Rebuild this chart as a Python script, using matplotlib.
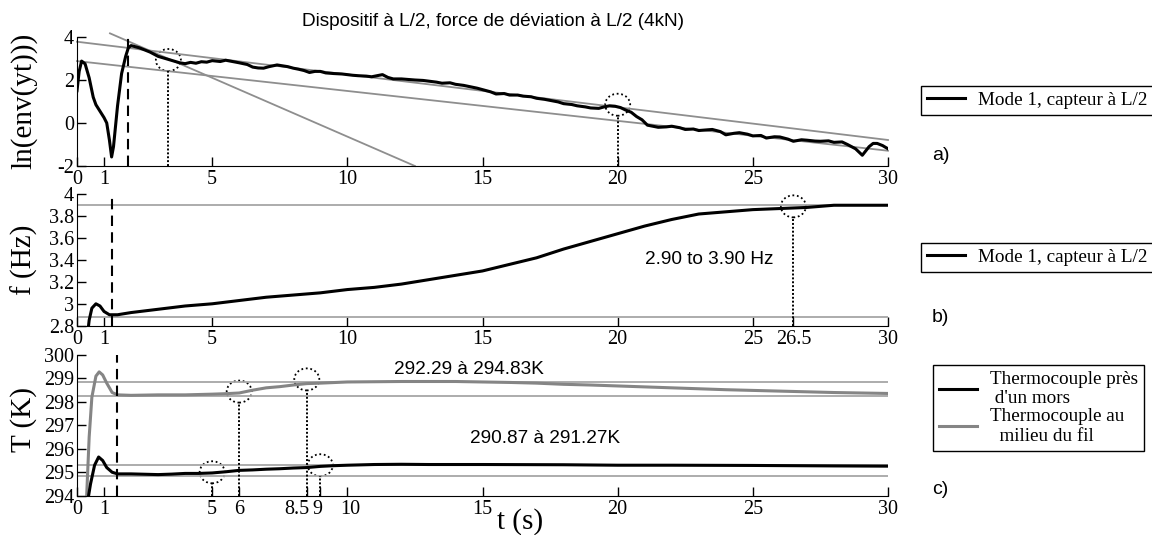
import numpy as np
import matplotlib.pyplot as plt
import matplotlib.transforms as mtransforms
from matplotlib.patches import Ellipse
from matplotlib.lines import Line2D

# panel a : ln(env(yt)) -- mode 1, capteur a L/2
t_a = [0.0, 0.08, 0.17, 0.3, 0.45, 0.6, 0.7, 0.85, 1.0, 1.1, 1.2, 1.28, 1.35, 1.5, 1.65,
       1.8, 1.9, 2.0, 2.3, 2.7, 3.0, 3.4, 3.8, 4.0, 4.2, 4.4, 4.6, 4.8, 5.0, 5.3, 5.5, 5.8,
       6.0, 6.3, 6.5, 6.7, 6.9, 7.1, 7.4, 7.6, 7.8, 8.0, 8.2, 8.4, 8.6, 8.8, 9.0, 9.2, 9.5,
       9.8, 10.0, 10.2, 10.4, 10.7, 10.9, 11.1, 11.3, 11.5, 11.7, 12.0, 12.3, 12.5, 12.8,
       13.0, 13.3, 13.5, 13.8, 14.0, 14.3, 14.5, 14.8, 15.0, 15.3, 15.5, 15.8, 16.0, 16.3,
       16.5, 16.8, 17.0, 17.3, 17.5, 17.8, 18.0, 18.3, 18.5, 18.8, 19.0, 19.3, 19.5, 19.7,
       19.9, 20.1, 20.3, 20.5, 20.7, 20.9, 21.1, 21.3, 21.5, 21.8, 22.0, 22.3, 22.5, 22.8,
       23.0, 23.3, 23.5, 23.8, 24.0, 24.3, 24.5, 24.8, 25.0, 25.3, 25.5, 25.8, 26.0, 26.3,
       26.5, 26.8, 27.0, 27.3, 27.5, 27.8, 28.0, 28.3, 28.5, 28.8, 29.05, 29.3, 29.45, 29.6,
       29.8, 30.0]
v_a = [1.5, 2.4, 2.88, 2.75, 2.1, 1.2, 0.85, 0.55, 0.25, 0.0, -0.8, -1.58, -1.1, 0.8, 2.3,
       3.1, 3.5, 3.6, 3.5, 3.3, 3.1, 2.95, 2.8, 2.76, 2.82, 2.78, 2.85, 2.83, 2.9, 2.86, 2.92,
       2.85, 2.8, 2.72, 2.6, 2.56, 2.55, 2.62, 2.7, 2.66, 2.62, 2.55, 2.5, 2.44, 2.35, 2.4,
       2.4, 2.33, 2.3, 2.28, 2.25, 2.22, 2.2, 2.18, 2.15, 2.2, 2.25, 2.12, 2.05, 2.05, 2.02,
       2.0, 1.98, 1.95, 1.9, 1.85, 1.87, 1.8, 1.75, 1.7, 1.62, 1.55, 1.45, 1.35, 1.37, 1.3,
       1.3, 1.25, 1.22, 1.15, 1.1, 1.05, 0.98, 0.9, 0.86, 0.8, 0.75, 0.7, 0.68, 0.75, 0.8,
       0.78, 0.72, 0.6, 0.5, 0.3, 0.15, -0.1, -0.15, -0.2, -0.18, -0.15, -0.22, -0.3, -0.28,
       -0.35, -0.32, -0.3, -0.4, -0.55, -0.48, -0.45, -0.52, -0.6, -0.58, -0.7, -0.64, -0.65,
       -0.75, -0.85, -0.78, -0.8, -0.84, -0.85, -0.83, -0.9, -0.88, -1.0, -1.2, -1.5, -1.1,
       -0.95, -0.95, -1.05, -1.2]
# fitted lines (t0, v0, t1, v1)
fit_a = [(0.0, 3.78, 30.0, -0.79),
         (0.0, 2.88, 30.0, -1.29),
         (1.22, 4.17, 12.5, -2.0)]
dash_a = 1.88
marks_a_t = [3.38, 20.0]
marks_a_v = [2.93, 0.85]

# panel b : frequency
t_b = [0.38, 0.45, 0.55, 0.7, 0.85, 1.0, 1.2, 1.5, 2.0, 3.0, 4.0, 5.0, 6.0, 7.0, 8.0, 9.0,
       10.0, 11.0, 12.0, 13.0, 14.0, 15.0, 16.0, 17.0, 18.0, 19.0, 20.0, 21.0, 22.0, 23.0,
       24.0, 25.0, 26.0, 27.0, 28.0, 29.0, 30.0]
f_b = [2.7, 2.85, 2.96, 3.0, 2.98, 2.93, 2.9, 2.9, 2.92, 2.95, 2.98, 3.0, 3.03, 3.06, 3.08, 3.1,
       3.13, 3.15, 3.18, 3.22, 3.26, 3.3, 3.36, 3.42, 3.5, 3.57, 3.64, 3.71, 3.77, 3.82,
       3.84, 3.86, 3.87, 3.88, 3.9, 3.9, 3.9]
hlines_b = [3.9, 2.88]
dash_b = 1.31
marks_b_t = [26.5]
marks_b_v = [3.89]

# panel c : temperatures
t_c1 = [0.4, 0.5, 0.65, 0.8, 0.95, 1.1, 1.3, 1.5, 2.0, 3.0, 3.5, 4.0, 4.5, 5.0, 5.5, 6.0,
        6.5, 7.0, 7.5, 8.0, 8.5, 9.0, 9.5, 10.0, 11.0, 12.0, 13.0, 15.0, 18.0, 20.0, 22.0,
        25.0, 28.0, 30.0]
T_c1 = [293.8, 294.5, 295.3, 295.65, 295.5, 295.2, 295.0, 294.93, 294.93, 294.9, 294.92,
        294.95, 294.95, 294.97, 295.02, 295.08, 295.1, 295.13, 295.15, 295.18, 295.2, 295.25,
        295.28, 295.3, 295.33, 295.34, 295.33, 295.33, 295.32, 295.3, 295.3, 295.29, 295.27,
        295.26]
t_c2 = [0.35, 0.45, 0.55, 0.7, 0.82, 0.95, 1.1, 1.3, 1.5, 2.0, 3.0, 4.0, 5.0, 5.5, 6.0,
        6.5, 7.0, 7.5, 8.0, 8.5, 9.0, 10.0, 11.0, 12.0, 13.0, 14.0, 15.0, 16.0, 17.0, 18.0,
        19.0, 20.0, 21.0, 22.0, 23.0, 24.0, 25.0, 26.0, 27.0, 28.0, 29.0, 30.0]
T_c2 = [293.8, 296.5, 298.2, 299.1, 299.28, 299.15, 298.8, 298.4, 298.3, 298.28, 298.3,
        298.3, 298.33, 298.35, 298.38, 298.5, 298.6, 298.65, 298.72, 298.78, 298.8, 298.85,
        298.86, 298.87, 298.87, 298.87, 298.85, 298.83, 298.8, 298.75, 298.72, 298.68,
        298.64, 298.6, 298.56, 298.52, 298.49, 298.46, 298.43, 298.4, 298.38, 298.36]
hlines_c = [298.86, 298.25, 295.31, 294.85]
dash_c = 1.47
marks_c_t = [5.0, 6.0, 8.5, 9.0]
marks_c_v = [295.0, 298.44, 298.96, 295.3]

serif = ['Liberation Serif', 'DejaVu Serif']
sans = ['Liberation Sans', 'DejaVu Sans']
plt.rcParams['font.family'] = serif

W, H = 1152, 535
fig = plt.figure(figsize=(W / 100, H / 100), dpi=100)
x0, x1 = 77, 888


def make_ax(top, bottom):
    return fig.add_axes([x0 / W, 1 - bottom / H, (x1 - x0) / W, (bottom - top) / H])


ax_a = make_ax(37, 166)
ax_b = make_ax(194.3, 325.7)
ax_c = make_ax(355, 495.7)

gray_fit = '#8e8e8e'
gray_h = '#a6a6a6'


def style(ax, ylim, yticks, ylabels, xticks, xlabels):
    ax.set_xlim(0, 30)
    ax.set_ylim(*ylim)
    ax.spines['top'].set_visible(False)
    ax.spines['right'].set_visible(False)
    ax.set_yticks(yticks)
    ax.set_yticklabels(ylabels)
    ax.set_xticks(xticks)
    ax.set_xticklabels(xlabels)
    ax.tick_params(direction='in', length=6.5, width=1, labelsize=14.5, pad=3)
    ax.tick_params(axis='y', pad=2)


def circles(ax, ts, vs, ylim, h_px):
    wd = 25 * 30 / (x1 - x0)
    hd = 22 * (ylim[1] - ylim[0]) / h_px
    for t, v in zip(ts, vs):
        ax.add_patch(Ellipse((t, v), wd, hd, fill=False, ls=(0, (1, 1.5)), lw=1.3,
                             ec='black', clip_on=False))
        ax.plot([t, t], [ylim[0], v - hd / 2], ls=(0, (1, 1)), color='black', lw=1.4)


# ---- panel a
for (ta, va, tb, vb) in fit_a:
    ax_a.plot([ta, tb], [va, vb], color=gray_fit, lw=1.3, clip_on=False)
line_a, = ax_a.plot(t_a, v_a, color='black', lw=2.2)
ax_a.plot([dash_a, dash_a], [-2, 4], color='black', lw=1.5, ls=(0, (5, 3)), clip_on=False)
circles(ax_a, marks_a_t, marks_a_v, (-2, 4), 129)
style(ax_a, (-2, 4), [-2, 0, 2, 4], ['-2', '0', '2', '4'],
      [0, 1, 5, 10, 15, 20, 25, 30], ['0', '1', '5', '10', '15', '20', '25', '30'])

# ---- panel b
for h in hlines_b:
    ax_b.axhline(h, color=gray_h, lw=1.3)
line_b, = ax_b.plot(t_b, f_b, color='black', lw=2.2)
ax_b.plot([dash_b, dash_b], [2.8, 4], color='black', lw=1.5, ls=(0, (5, 3)))
circles(ax_b, marks_b_t, marks_b_v, (2.8, 4), 131.4)
style(ax_b, (2.8, 4), [2.8, 3, 3.2, 3.4, 3.6, 3.8, 4],
      ['2.8', '3', '3.2', '3.4', '3.6', '3.8', '4'],
      [0, 1, 5, 10, 15, 20, 25, 26.5, 30],
      ['0', '1', '5', '10', '15', '20', '25', '26.5', '30'])
ax_b.text(23.4, 3.40, '2.90 to 3.90 Hz', family=sans, fontsize=13.7, ha='center', va='center')

# ---- panel c
for h in hlines_c:
    ax_c.axhline(h, color=gray_h, lw=1.3)
line_c2, = ax_c.plot(t_c2, T_c2, color='#858585', lw=2.2)
line_c1, = ax_c.plot(t_c1, T_c1, color='black', lw=2.2)
ax_c.plot([dash_c, dash_c], [294, 300], color='black', lw=1.5, ls=(0, (5, 3)))
circles(ax_c, marks_c_t, marks_c_v, (294, 300), 140.7)
style(ax_c, (294, 300), [294, 295, 296, 297, 298, 299, 300],
      ['294', '295', '296', '297', '298', '299', '300'],
      [0, 1, 5, 6, 8.5, 9, 10, 15, 20, 25, 30],
      ['0', '1', '5', '6', '8.5', '9', '10', '15', '20', '25', '30'])
# crowded labels 8.5 / 9 nudged apart as in the original
for lab in ax_c.get_xticklabels():
    shift = {'8.5': -10, '9': -3, '10': 3}.get(lab.get_text(), 0)
    if shift:
        lab.set_transform(lab.get_transform() +
                          mtransforms.ScaledTranslation(shift / 100, 0, fig.dpi_scale_trans))
ax_c.text(14.48, 299.40, '292.29 à 294.83K', family=sans, fontsize=13.7, ha='center', va='center')
ax_c.text(17.33, 296.46, '290.87 à 291.27K', family=sans, fontsize=13.7, ha='center', va='center')

# labels
fig.text(24 / W, 1 - 101 / H, 'ln(env(yt)))', rotation=90, fontsize=21, ha='center', va='center')
fig.text(24 / W, 1 - 260 / H, 'f (Hz)', rotation=90, fontsize=21, ha='center', va='center')
fig.text(24 / W, 1 - 420 / H, 'T (K)', rotation=90, fontsize=21, ha='center', va='center')
fig.text(520 / W, 1 - 522 / H, 't (s)', fontsize=21, ha='center', va='center')
fig.text(493 / W, 1 - 22 / H, 'Dispositif à L/2, force de déviation à L/2 (4kN)',
         family=sans, fontsize=13.7, ha='center', va='center')
for lab, yp in [('a)', 156), ('b)', 317), ('c)', 490)]:
    fig.text(932 / W, 1 - yp / H, lab, family=sans, fontsize=14, ha='left', va='center')

# legends
leg_kw = dict(loc='upper left', frameon=True, fancybox=False, framealpha=1,
              edgecolor='black', fontsize=13.8, handlelength=2.0, handletextpad=0.7,
              borderpad=0.3, borderaxespad=0)
for lines, labels, top in [([line_a], ['Mode 1, capteur à L/2'], 86),
                           ([line_b], ['Mode 1, capteur à L/2'], 243)]:
    lg = fig.legend(lines, labels, bbox_to_anchor=(921 / W, 1 - top / H), **leg_kw)
    lg.get_frame().set_linewidth(1)
h1 = Line2D([], [], color='black', lw=2.2)
h2 = Line2D([], [], color='#858585', lw=2.2)
lg = fig.legend([h1, h2], ['Thermocouple près\n d\'un mors', 'Thermocouple au\n  milieu du fil'],
                bbox_to_anchor=(933 / W, 1 - 365 / H), labelspacing=0.05, **leg_kw)
lg.get_frame().set_linewidth(1)

fig.savefig('out.png', dpi=100)
